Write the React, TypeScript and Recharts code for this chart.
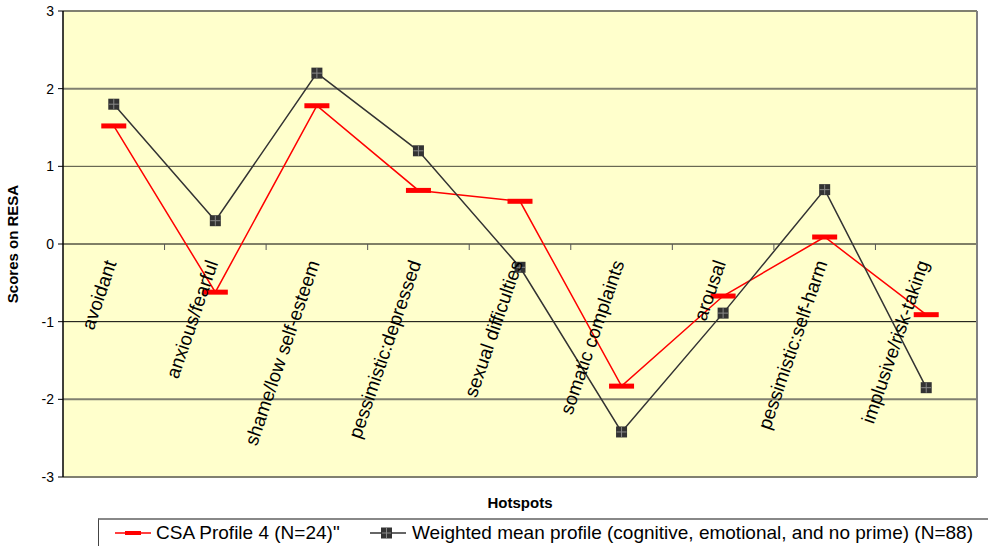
import React from 'react';
import { LineChart, Line, XAxis, YAxis, CartesianGrid, ReferenceLine, Legend } from 'recharts';

const hotspots = [
  'avoidant',
  'anxious/fearful',
  'shame/low self-esteem',
  'pessimistic:depressed',
  'sexual difficulties',
  'somatic complaints',
  'arousal',
  'pessimistic:self-harm',
  'implusive/risk-taking',
];
const csaProfile4 = [1.52, -0.62, 1.78, 0.69, 0.55, -1.83, -0.67, 0.09, -0.91];
const weightedMean = [1.8, 0.3, 2.2, 1.2, -0.3, -2.42, -0.89, 0.7, -1.85];
const yTicks = [3, 2, 1, 0, -1, -2, -3];

const CSA_NAME = 'CSA Profile 4 (N=24)"';
const MEAN_NAME = 'Weighted mean profile (cognitive, emotional, and no prime) (N=88)';

const data = hotspots.map((h, i) => ({ hotspot: h, csa: csaProfile4[i], mean: weightedMean[i] }));

const FONT = '"Liberation Sans", Arial, sans-serif';
const W = 988;
const H = 546;
const PLOT_TOP = 11;
const PLOT_BOTTOM = 477;
const PLOT_LEFT = 63;
const PLOT_RIGHT = 977;
const BAND = (PLOT_RIGHT - PLOT_LEFT) / hotspots.length;

// x axis sits on the zero line (Excel "crosses at 0")
const CatTick = (props: any) => {
  const { x, payload, index } = props;
  const y0 = (PLOT_TOP + PLOT_BOTTOM) / 2;
  const ax = x + 3;
  const ay = y0 + 19;
  return (
    <g>
      {index < hotspots.length - 1 && (
        <line x1={x + BAND / 2} x2={x + BAND / 2} y1={y0} y2={y0 + 6} stroke="#555" strokeWidth={1} />
      )}
      <text
        x={ax}
        y={ay}
        transform={`rotate(-71, ${ax}, ${ay})`}
        textAnchor="end"
        fontSize={19}
        fontFamily={FONT}
        fill="#000"
      >
        {payload.value}
      </text>
    </g>
  );
};

const RedDash = (props: any) => {
  const { cx, cy } = props;
  if (cx == null || cy == null) return null;
  return <rect x={cx - 12.5} y={cy - 2.5} width={25} height={5} fill="#ff0000" />;
};

const DarkSquare = (props: any) => {
  const { cx, cy } = props;
  if (cx == null || cy == null) return null;
  return (
    <g>
      <rect x={cx - 5.5} y={cy - 5.5} width={11} height={11} fill="#333333" />
      <line x1={cx} x2={cx} y1={cy - 5} y2={cy + 5} stroke="#888" strokeWidth={1} />
      <line x1={cx - 5} x2={cx + 5} y1={cy} y2={cy} stroke="#888" strokeWidth={1} />
    </g>
  );
};

const gridStyle = (v: number) => {
  if (v === 0 || v === -1) return { stroke: '#000', strokeWidth: 1 };
  if (v === 1) return { stroke: '#4a4a3a', strokeWidth: 1 };
  return { stroke: '#808070', strokeWidth: 2 };
};

const LegendBox = () => (
  <div
    style={{
      width: 900,
      height: 30,
      borderTop: '2px solid #888',
      borderLeft: '1px solid #444',
      background: '#fff',
      fontFamily: FONT,
      fontSize: 19,
      color: '#000',
      position: 'relative',
      whiteSpace: 'nowrap',
    }}
  >
    <svg width={320} height={30} style={{ position: 'absolute', left: 0, top: 0 }}>
      <line x1={16} x2={52} y1={13} y2={13} stroke="#ff0000" strokeWidth={1.5} />
      <rect x={26} y={11} width={16} height={4} fill="#ff0000" />
      <line x1={271} x2={307} y1={13} y2={13} stroke="#333" strokeWidth={1.5} />
      <rect x={282} y={7.5} width={11} height={11} fill="#333" />
      <line x1={287.5} x2={287.5} y1={8} y2={18} stroke="#888" />
      <line x1={283} x2={292} y1={13} y2={13} stroke="#888" />
    </svg>
    <span style={{ position: 'absolute', left: 57, top: 2 }}>{CSA_NAME}</span>
    <span style={{ position: 'absolute', left: 313, top: 2 }}>{MEAN_NAME}</span>
  </div>
);

export default function App() {
  return (
    <div style={{ position: 'absolute', left: 0, top: 0, width: W, height: H, background: '#fff', overflow: 'hidden' }}>
      <LineChart
        width={W}
        height={H}
        data={data}
        margin={{ top: PLOT_TOP, right: 0, bottom: H - PLOT_BOTTOM - 20, left: 0 }}
      >
        <CartesianGrid fill="#ffffcc" horizontal={false} vertical={false} />
        <XAxis
          dataKey="hotspot"
          height={20}
          axisLine={false}
          tickLine={false}
          interval={0}
          padding={{ left: BAND / 2, right: BAND / 2 }}
          tick={<CatTick />}
          label={{ value: 'Hotspots', position: 'bottom', offset: 0, fontSize: 15, fontWeight: 'bold', fill: '#000', fontFamily: FONT }}
        />
        <YAxis
          yAxisId="left"
          width={PLOT_LEFT}
          domain={[-3, 3]}
          ticks={yTicks}
          interval={0}
          axisLine={{ stroke: '#000', strokeWidth: 1.5 }}
          tickLine={{ stroke: '#000' }}
          tickSize={5}
          tickMargin={4}
          tick={{ fontSize: 14, fill: '#000', fontFamily: FONT }}
          label={{
            value: 'Scores on RESA',
            angle: -90,
            position: 'insideLeft',
            offset: 13,
            style: { textAnchor: 'middle', fontSize: 15, fontWeight: 'bold', fill: '#000', fontFamily: FONT },
          }}
        />
        <YAxis
          yAxisId="right"
          orientation="right"
          width={W - PLOT_RIGHT}
          domain={[-3, 3]}
          tick={false}
          tickLine={false}
          axisLine={{ stroke: '#808080', strokeWidth: 2 }}
        />
        {yTicks.map((v) => (
          <ReferenceLine key={v} yAxisId="left" y={v} {...gridStyle(v)} />
        ))}
        <Legend
          layout="horizontal"
          verticalAlign="middle"
          align="center"
          content={<LegendBox />}
          wrapperStyle={{ position: 'absolute', left: 98, top: 518, width: 900 }}
        />
        <Line
          yAxisId="left"
          name={CSA_NAME}
          dataKey="csa"
          stroke="#ff0000"
          strokeWidth={1.5}
          dot={<RedDash />}
          activeDot={false}
          isAnimationActive={false}
        />
        <Line
          yAxisId="left"
          name={MEAN_NAME}
          dataKey="mean"
          stroke="#333333"
          strokeWidth={1.5}
          dot={<DarkSquare />}
          activeDot={false}
          isAnimationActive={false}
        />
      </LineChart>
    </div>
  );
}
